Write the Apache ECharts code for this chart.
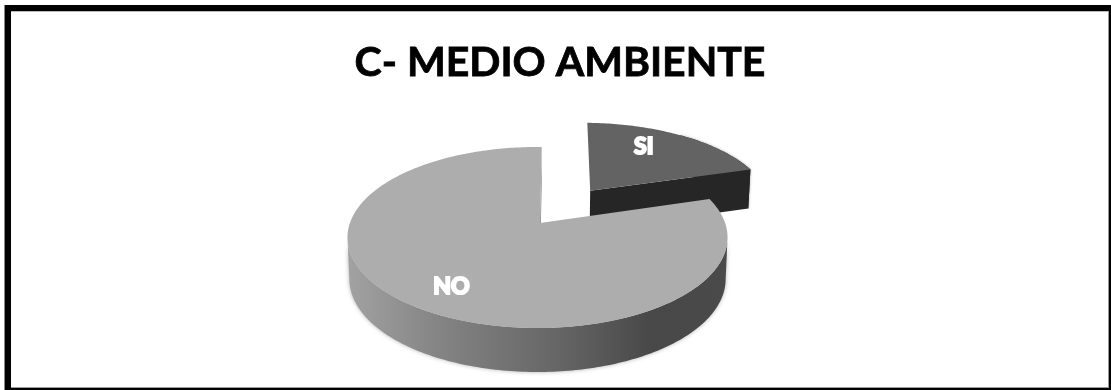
<!DOCTYPE html>
<html><head><meta charset="utf-8">
<style>html,body{margin:0;padding:0;background:#fff}#c{width:1111px;height:390px}</style>
<script src="https://cdn.jsdelivr.net/npm/echarts@6/dist/echarts.min.js"></script>
</head><body><div id="c"></div>
<script>
const categories = ["SI", "NO"];
const values = [20, 80];
const titleText = "C- MEDIO AMBIENTE";

// projection of the tilted disc
const CX = 537.5, CY = 223, BX = 187.6, AY = 88.2, K = 0.16, SHRINK = 0.01;
const ROTATE = 1.5, EXPLODE = 0.49, NO_APEX_SHIFT = 2.5;
const LABELS = { SI: { r: 0.72, deg: 30 }, NO: { r: 0.765, deg: 212.5 } };
const TOPS = { SI: "#636363", NO: "#adadad" };
const total = values.reduce((a, b) => a + b, 0);
// angles at which the rim of the disc turns away from the viewer
const RIM_R = Math.acos(-K) * 180 / Math.PI, RIM_L = 360 - RIM_R;

function project(u, v, bottom) {
  const w = 1 - K * v;
  const s = bottom ? 1 - SHRINK : 1;
  return [CX + s * BX * u / w, CY + AY * v / w + (bottom ? 41 + 3 * v : 0)];
}
function polar(deg, r, off) {
  const a = deg * Math.PI / 180;
  return [off[0] + r * Math.sin(a), off[1] - r * Math.cos(a)];
}
function arc(from, to, off, bottom) {
  const pts = [], n = Math.max(2, Math.ceil(Math.abs(to - from)));
  for (let i = 0; i <= n; i++) {
    const p = polar(from + (to - from) * i / n, 1, off);
    pts.push(project(p[0], p[1], bottom));
  }
  return pts;
}
function renderItem(params, api) {
  const i = params.dataIndex, name = categories[i], val = api.value(0);
  let start = 0;
  for (let j = 0; j < i; j++) start += values[j];
  const a0 = ROTATE + start / total * 360, a1 = ROTATE + (start + val) / total * 360;
  const mid = (a0 + a1) / 2;
  const off = i === 0 ? polar(mid, EXPLODE, [0, 0]) : [0, 0];
  const apexT = project(off[0], off[1], false), apexB = project(off[0], off[1], true);
  if (i === 1) { apexT[0] += NO_APEX_SHIFT; apexB[0] += NO_APEX_SHIFT; }
  const topArc = arc(a0, a1, off, false), botArc = arc(a0, a1, off, true);
  const children = [];
  if (i === 0) {
    const wallFrom = a0 + (a1 - a0) * 0.5;
    const wt = arc(wallFrom, a1, off, false), wb = arc(wallFrom, a1, off, true);
    children.push({ type: "polygon", shape: { points: wt.concat(wb.slice().reverse()) },
      style: { fill: "#262626", shadowBlur: 3, shadowColor: "rgba(0,0,0,0.35)" } });
    children.push({ type: "polygon", shape: { points: [apexT, topArc[topArc.length - 1], botArc[botArc.length - 1], apexB] },
      style: { fill: "#262626" } });
  } else {
    children.push({ type: "polygon", shape: { points: [apexT, topArc[topArc.length - 1], botArc[botArc.length - 1], apexB] },
      style: { fill: "#8c8c8c" } });
    const wallA = Math.max(a0, RIM_R), wallB = Math.min(a1, RIM_L);
    const wt = arc(wallA, wallB, off, false), wb = arc(wallA, wallB, off, true);
    children.push({ type: "polygon", shape: { points: wt.concat(wb.slice().reverse()) },
      style: {
        fill: new echarts.graphic.LinearGradient(0, 0, 1, 0, [
          { offset: 0, color: "#a2a2a2" }, { offset: 0.25, color: "#838383" },
          { offset: 0.55, color: "#666666" }, { offset: 0.8, color: "#484848" }, { offset: 1, color: "#4a4a4a" }
        ]),
        shadowBlur: 4, shadowColor: "rgba(0,0,0,0.3)"
      } });
  }
  children.push({ type: "polygon", shape: { points: [apexT].concat(topArc) }, style: { fill: TOPS[name] } });
  const lp = polar(LABELS[name].deg, LABELS[name].r, off);
  const xy = project(lp[0], lp[1], false);
  children.push({ type: "text", x: xy[0], y: xy[1],
    style: { text: name, fill: "#fff", font: "bold 23px Lato", align: "center", verticalAlign: "middle",
      stroke: "#fff", lineWidth: 2.2, shadowBlur: 3, shadowColor: "rgba(0,0,0,0.6)", shadowOffsetX: 1, shadowOffsetY: 1 } });
  return { type: "group", children };
}
const chart = echarts.init(document.getElementById("c"), null, { renderer: "canvas" });
const R = (x, y, w, h, c) => ({ type: "rect", silent: true, z: 50, shape: { x, y, width: w, height: h }, style: { fill: c } });
chart.setOption({
  animation: false,
  backgroundColor: "#fff",
  title: { text: titleText, left: 555, top: 58, textAlign: "center", textVerticalAlign: "middle",
    textStyle: { fontFamily: "Lato", fontWeight: "bold", fontSize: 41, color: "#000", textBorderColor: "#000", textBorderWidth: 0.8 } },
  graphic: { elements: [
    R(4, 5, 1, 385, "#8a8a8a"), R(11, 11, 1097, 1, "#bbb"),
    R(1108, 11, 1, 377, "#9a9a9a"), R(11, 387, 1098, 1, "#9a9a9a"),
    R(5, 5, 1106, 6, "#000"), R(5, 5, 6, 385, "#000"),
    R(1109, 5, 2, 385, "#000"), R(5, 388, 1106, 2, "#000")
  ] },
  series: [{ type: "custom", coordinateSystem: "none", renderItem,
    data: values.map((v, i) => ({ name: categories[i], value: [v] })) }]
});
</script></body></html>
